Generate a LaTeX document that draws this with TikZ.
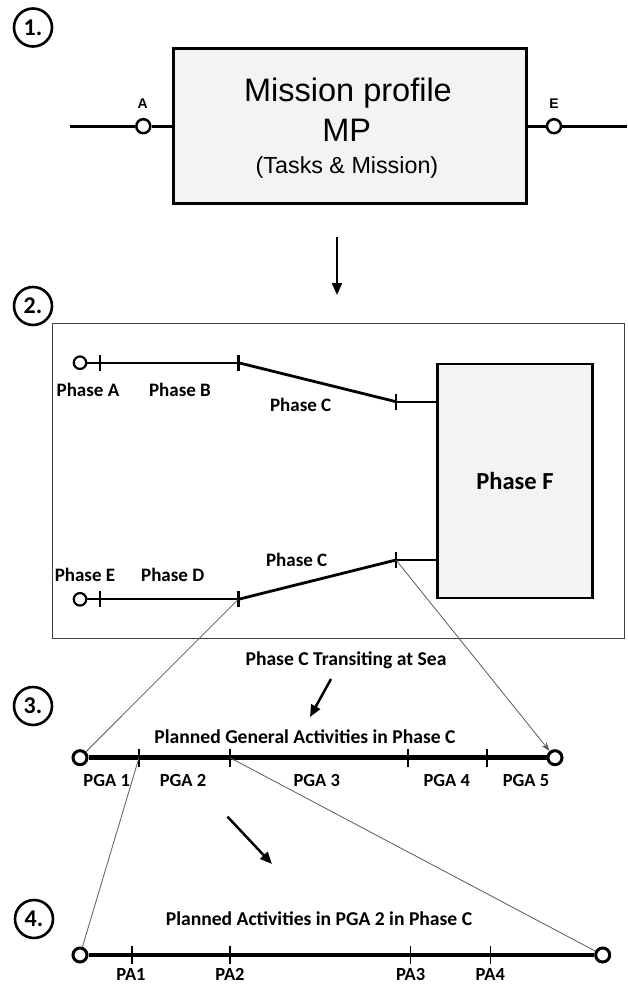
\documentclass[tikz,border=0pt]{standalone}
\usepackage{fontspec}
\setmainfont{Carlito}
\newfontfamily\arialf{Liberation Sans}
\usetikzlibrary{arrows.meta}
\definecolor{boxfill}{HTML}{F2F3F3}
\definecolor{thingray}{HTML}{5A5A5A}
\begin{document}
\begin{tikzpicture}[x=1pt,y=-1pt,
  numc/.style={draw,circle,line width=2.6pt,minimum size=38pt,inner sep=0pt,
    font=\fontsize{24}{24}\selectfont\bfseries},
  portA/.style={draw,circle,fill=white,line width=2.5pt,minimum size=14pt,inner sep=0pt},
  portB/.style={draw,circle,fill=white,line width=2.2pt,minimum size=12.5pt,inner sep=0pt},
  portC/.style={draw,circle,fill=white,line width=3pt,minimum size=14pt,inner sep=0pt},
  lbl/.style={anchor=base,inner sep=0pt,font=\fontsize{19}{19}\selectfont\bfseries},
  pgalbl/.style={anchor=base,inner sep=0pt,font=\fontsize{18.5}{18.5}\selectfont\bfseries},
  ttl/.style={anchor=base,inner sep=0pt,font=\fontsize{19.6}{19.6}\selectfont\bfseries},
  mplbl/.style={anchor=base,inner sep=0pt},
  thinl/.style={draw=thingray,line width=0.8pt},
  bigarrow/.style={line width=2.6pt,-{Triangle[length=12pt,width=10pt]}},
  ticktwo/.style={line width=2.4pt},
  tickthree/.style={line width=1.6pt},
]
\useasboundingbox (0,0) rectangle (627,985);

% ---------- Section 1 ----------
\node[numc] (n1) at (33,27.5) {1.};
\node[draw,fill=boxfill,line width=3.3pt,minimum width=353pt,minimum height=155pt,inner sep=0pt] (mp) at (350,126.2) {};
\node[mplbl,font=\arialf\fontsize{32.5}{32.5}\selectfont] (t1) at (348,101.6) {Mission profile};
\node[mplbl,font=\arialf\fontsize{32.5}{32.5}\selectfont] (t2) at (346.7,141.6) {MP};
\node[mplbl,font=\arialf\fontsize{23.3}{23.3}\selectfont] (t3) at (347,173.3) {(Tasks \& Mission)};
\coordinate (L1) at (70,126.2);
\coordinate (R1) at (627,126.2);
\node[portA] (pA) at (143.3,126.2) {};
\node[portA] (pE) at (554,126.2) {};
\node[mplbl,font=\arialf\fontsize{14}{14}\selectfont\bfseries] (lA) at (142.7,108.3) {A};
\node[mplbl,font=\arialf\fontsize{14}{14}\selectfont\bfseries] (lE) at (554,108.3) {E};
\draw[line width=3pt] (L1) -- (pA);
\draw[line width=3pt] (pA) -- (mp.west);
\draw[line width=3pt] (mp.east) -- (pE);
\draw[line width=3pt] (pE) -- (R1);

% arrow 1 -> 2
\coordinate (a1s) at (337,237);
\coordinate (a1e) at (337,295);
\draw[bigarrow,line width=2.2pt] (a1s) -- (a1e);

% ---------- Section 2 ----------
\node[draw=black!75,line width=1.1pt,minimum width=572pt,minimum height=315pt,inner sep=0pt] (outer) at (338.9,481) {};
\node[numc,fill=white] (n2) at (33,306) {2.};
\node[draw,fill=boxfill,line width=2.6pt,minimum width=155.5pt,minimum height=234pt,inner sep=0pt,
  font=\fontsize{24.5}{24.5}\selectfont\bfseries] (F) at (515,481) {Phase F};

\node[portB] (pa) at (80,362.7) {};
\coordinate (ta1) at (100,362.7);
\coordinate (ta2) at (238.3,362.7);
\coordinate (ta3) at (396,401.7);
\draw[line width=2.3pt] (pa) -- (ta2);
\draw[line width=2.8pt] (ta2) -- (ta3);
\draw[line width=2.3pt] (ta3) -- (ta3 -| F.west);
\foreach \p in {ta1,ta2,ta3} \draw[ticktwo] ([yshift=-8pt]\p) -- ([yshift=8pt]\p);

\node[portB] (pe) at (80,599.3) {};
\coordinate (tb1) at (100,599.3);
\coordinate (tb2) at (238.3,599.3);
\coordinate (tb3) at (396,560);
\draw[line width=2.3pt] (pe) -- (tb2);
\draw[line width=2.8pt] (tb2) -- (tb3);
\draw[line width=2.3pt] (tb3) -- (tb3 -| F.west);
\foreach \p in {tb1,tb2,tb3} \draw[ticktwo] ([yshift=-8pt]\p) -- ([yshift=8pt]\p);

\node[lbl] (lpa) at (88,396.7) {Phase A};
\node[lbl] (lpb) at (180,396.7) {Phase B};
\node[lbl] (lpc1) at (300.7,411.7) {Phase C};
\node[lbl] (lpe) at (85,581.7) {Phase E};
\node[lbl] (lpd) at (172.7,581.7) {Phase D};
\node[lbl] (lpc2) at (296.7,566) {Phase C};

% ---------- Section 3 ----------
\node[numc] (n3) at (33,706) {3.};
\node[ttl] (ttr) at (346,665) {Phase C Transiting at Sea};
\coordinate (a3s) at (331,679);
\coordinate (a3e) at (310,717);
\draw[bigarrow,line width=2.5pt] (a3s) -- (a3e);
\node[ttl] (tpg) at (305,743.3) {Planned General Activities in Phase C};

\node[portC] (q0) at (80,757.7) {};
\node[portC] (q6) at (555,757.7) {};
\draw[line width=4.5pt] (q0) -- (q6);
\coordinate (g1) at (139,757.7);
\coordinate (g2) at (230,757.7);
\coordinate (g3) at (408,757.7);
\coordinate (g4) at (487,757.7);
\foreach \p in {g1,g2,g3,g4} \draw[tickthree] ([yshift=-9pt]\p) -- ([yshift=9pt]\p);
\node[pgalbl] (pg1) at (106.7,786.7) {PGA 1};
\node[pgalbl] (pg2) at (183,786.7) {PGA 2};
\node[pgalbl] (pg3) at (316.7,786.7) {PGA 3};
\node[pgalbl] (pg4) at (446.7,786.7) {PGA 4};
\node[pgalbl] (pg5) at (526,786.7) {PGA 5};

% thin connectors 2 -> 3
\draw[thinl] (tb2) -- (q0);
\draw[thinl,-{Stealth[length=9pt,width=6pt]}] (tb3) -- (q6);

% ---------- Section 4 ----------
\coordinate (a4s) at (227.5,816.7);
\coordinate (a4e) at (272,864);
\draw[bigarrow,line width=2.5pt] (a4s) -- (a4e);
\node[numc] (n4) at (34,919) {4.};
\node[ttl] (tpa) at (319,925) {Planned Activities in PGA 2 in Phase C};

\node[portC] (r0) at (80,955) {};
\node[portC] (r6) at (602.7,955) {};
\draw[line width=4.5pt] (r0) -- (r6);
\coordinate (h1) at (131.7,955);
\coordinate (h2) at (230,955);
\coordinate (h3) at (410.6,955);
\coordinate (h4) at (490.3,955);
\foreach \p in {h1,h2,h3,h4} \draw[tickthree] ([yshift=-9pt]\p) -- ([yshift=9pt]\p);
\node[pgalbl] (pa1) at (131,980.5) {PA1};
\node[pgalbl] (pa2) at (230,980.5) {PA2};
\node[pgalbl] (pa3) at (410.6,980.5) {PA3};
\node[pgalbl] (pa4) at (490.3,980.5) {PA4};

% thin connectors 3 -> 4
\draw[thinl] (g1) -- (r0);
\draw[thinl] (g2) -- (r6);
\end{tikzpicture}
\end{document}
